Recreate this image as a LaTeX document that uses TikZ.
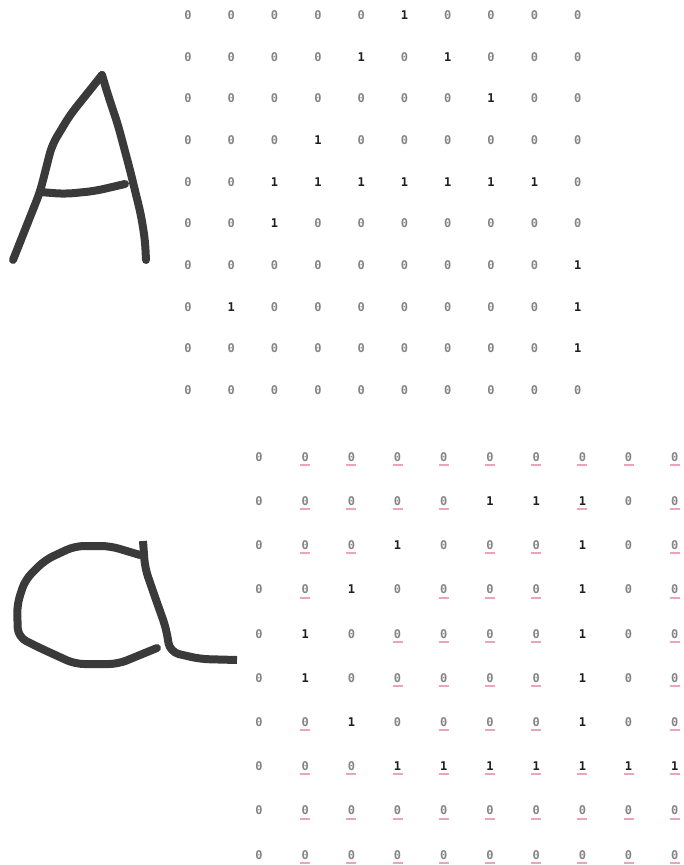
\documentclass[tikz,border=0pt]{standalone}
\usepackage{fontspec}
\newfontfamily\digitfont{DejaVu Sans Mono}
\definecolor{zerogray}{HTML}{858585}
\definecolor{onedark}{HTML}{1E1E1E}
\definecolor{pengray}{HTML}{3A3A3A}
\definecolor{squigpink}{HTML}{EBA5B8}
\begin{document}
\begin{tikzpicture}[x=1pt,y=-1pt,
  zero/.style={text=zerogray, font=\digitfont\bfseries\fontsize{12}{12}\selectfont, inner sep=0pt},
  one/.style={text=onedark, font=\digitfont\bfseries\fontsize{12}{12}\selectfont, inner sep=0pt},
  pen/.style={draw=pengray, line width=8pt, line cap=round, line join=round, rounded corners=9pt},
  squiggle/.style={draw=squigpink, line width=2pt}]
\useasboundingbox (0,0) rectangle (683,865);
\fill[white] (0,0) rectangle (683,865);

% top matrix
\foreach \row [count=\r] in {
  {0,0,0,0,0,1,0,0,0,0},
  {0,0,0,0,1,0,1,0,0,0},
  {0,0,0,0,0,0,0,1,0,0},
  {0,0,0,1,0,0,0,0,0,0},
  {0,0,1,1,1,1,1,1,1,0},
  {0,0,1,0,0,0,0,0,0,0},
  {0,0,0,0,0,0,0,0,0,1},
  {0,1,0,0,0,0,0,0,0,1},
  {0,0,0,0,0,0,0,0,0,1},
  {0,0,0,0,0,0,0,0,0,0}} {
  \foreach \v [count=\c] in \row {
    \pgfmathsetmacro{\xx}{188+43.3*(\c-1)}
    \pgfmathsetmacro{\yy}{15+41.7*(\r-1)}
    \ifnum\v=1
      \node[one] (t-\r-\c) at (\xx,\yy) {1};
    \else
      \node[zero] (t-\r-\c) at (\xx,\yy) {0};
    \fi
  }
}

% bottom matrix: 0 plain zero, 1 plain one, 2 underlined zero, 3 underlined one
\foreach \row [count=\r] in {
  {0,2,2,2,2,2,2,2,2,2},
  {0,2,2,2,2,1,1,3,0,2},
  {0,2,2,1,0,2,2,1,0,2},
  {0,2,1,0,2,2,2,1,0,2},
  {0,1,0,2,2,2,2,1,0,2},
  {0,1,0,2,2,2,2,1,0,2},
  {0,2,1,0,2,2,2,1,0,2},
  {0,2,2,3,3,3,3,3,3,3},
  {0,2,2,2,2,2,2,2,2,2},
  {0,2,2,2,2,2,2,2,2,2}} {
  \foreach \v [count=\c] in \row {
    \pgfmathsetmacro{\xx}{259+46.2*(\c-1)}
    \pgfmathsetmacro{\yy}{457+44.2*(\r-1)}
    \ifnum\v>1
      \draw[squiggle] (\xx-5,\yy+8) -- (\xx+5,\yy+8);
    \fi
    \ifodd\v
      \node[one] (b-\r-\c) at (\xx,\yy) {1};
    \else
      \node[zero] (b-\r-\c) at (\xx,\yy) {0};
    \fi
  }
}

% handwritten A
\draw[pen] (13,260) -- (40,192) -- (52,145) -- (70,115) -- (90,90) -- (102,75);
\draw[pen] (102,75) -- (108,95) -- (118,125) -- (130,170) -- (141,215) -- (145,240) -- (146,260);
\draw[pen] (40,192) -- (65,194) -- (95,191) -- (125,184);

% handwritten a
\draw[pen] (140,555) -- (110,546) -- (75,546) -- (45,560) -- (25,580) -- (17,605)
  -- (18,637) -- (40,648) -- (75,664) -- (118,664) -- (157,648);
\draw[pen, line cap=butt] (143,541) -- (145,568) -- (155,597) -- (166,628) -- (170,652)
  -- (200,659) -- (237,660);
\end{tikzpicture}
\end{document}
